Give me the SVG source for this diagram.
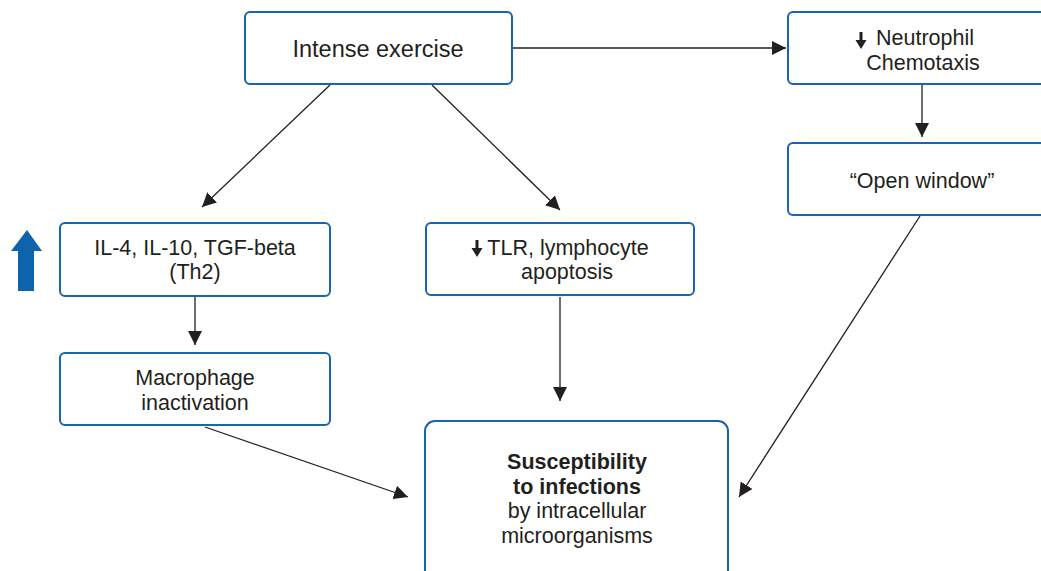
<svg xmlns="http://www.w3.org/2000/svg" width="1041" height="571" viewBox="0 0 1041 571">
<style>
.box{fill:#fff;stroke:#1a63ad;stroke-width:2}
.t{font-family:"Liberation Sans",Arial,sans-serif;font-size:21.5px;fill:#231f20;text-anchor:middle}
.b{font-weight:bold}
.c{stroke:#231f20;stroke-width:1.3;fill:none;marker-end:url(#ah)}
.da{fill:#231f20}
</style>
<defs>
<marker id="ah" viewBox="0 0 10 10" refX="10" refY="5" markerWidth="14" markerHeight="14" markerUnits="userSpaceOnUse" orient="auto">
<path d="M0,0 L10,5 L0,10 z" fill="#231f20"/>
</marker>
</defs>
<rect width="1041" height="571" fill="#fff"/>
<g id="connectors">
<line class="c" x1="512" y1="48" x2="786" y2="48"/>
<line class="c" x1="330" y1="85" x2="202" y2="207"/>
<line class="c" x1="432" y1="85" x2="560" y2="210"/>
<line class="c" x1="922" y1="85" x2="922" y2="137"/>
<line class="c" x1="195" y1="297" x2="195" y2="345"/>
<line class="c" x1="560" y1="297" x2="560" y2="401"/>
<line class="c" x1="205" y1="427" x2="408" y2="497"/>
<line class="c" x1="920" y1="216" x2="739" y2="497"/>
</g>
<g id="n1"><rect class="box" x="245" y="12" width="267" height="72" rx="5"/><text class="t" x="378" y="57" style="font-size:23.5px">Intense exercise</text></g>
<g id="n2"><rect class="box" x="788" y="12" width="260" height="72" rx="5"/>
<path class="da" d="M859.5,32 h3 v8 h4 L861,49 L855.5,40 h4 z"/>
<text class="t" x="925" y="45">Neutrophil</text><text class="t" x="923" y="70">Chemotaxis</text></g>
<g id="n3"><rect class="box" x="788" y="143" width="260" height="72" rx="5"/><text class="t" x="922" y="188">“Open window”</text></g>
<g id="n4"><rect class="box" x="60" y="223" width="270" height="73" rx="5"/><text class="t" x="195" y="255">IL-4, IL-10, TGF-beta</text><text class="t" x="195" y="279">(Th2)</text></g>
<g id="up"><path d="M27,230 L42,251 L34,251 L34,291 L18,291 L18,251 L11,251 z" fill="#0f62ad"/></g>
<g id="n5"><rect class="box" x="426" y="223" width="268" height="72" rx="5"/>
<path class="da" d="M475.5,240 h3 v8 h4 L477,257 L471.5,248 h4 z"/>
<text class="t" x="568" y="255">TLR, lymphocyte</text><text class="t" x="567" y="279">apoptosis</text></g>
<g id="n6"><rect class="box" x="60" y="353" width="270" height="72" rx="5"/><text class="t" x="195" y="385">Macrophage</text><text class="t" x="195" y="410">inactivation</text></g>
<g id="n7"><rect class="box" x="425" y="421" width="303" height="160" rx="10"/>
<text class="t b" x="577" y="469">Susceptibility</text><text class="t b" x="577" y="494">to infections</text>
<text class="t" x="577" y="518">by intracellular</text><text class="t" x="577" y="543">microorganisms</text></g>
</svg>
